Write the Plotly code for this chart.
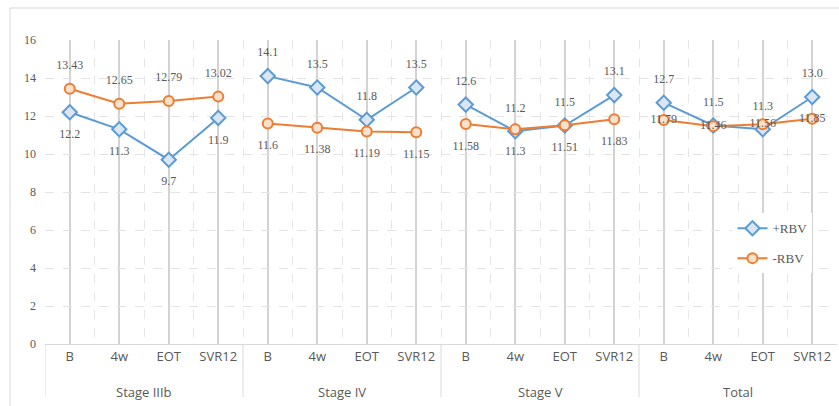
import plotly.graph_objects as go

categories = ["B", "4w", "EOT", "SVR12"] * 4
groups = ["Stage IIIb", "Stage IV", "Stage V", "Total"]
plus_rbv = [12.2, 11.3, 9.7, 11.9, 14.1, 13.5, 11.8, 13.5, 12.6, 11.2, 11.5, 13.1, 12.7, 11.5, 11.3, 13.0]
plus_labels = ["12.2", "11.3", "9.7", "11.9", "14.1", "13.5", "11.8", "13.5",
               "12.6", "11.2", "11.5", "13.1", "12.7", "11.5", "11.3", "13.0"]
minus_rbv = [13.43, 12.65, 12.79, 13.02, 11.6, 11.38, 11.19, 11.15, 11.58, 11.3, 11.51, 11.83, 11.79, 11.46, 11.56, 11.85]
minus_labels = ["13.43", "12.65", "12.79", "13.02", "11.6", "11.38", "11.19", "11.15",
                "11.58", "11.3", "11.51", "11.83", "11.79", "11.46", "11.56", "11.85"]
y_ticks = [0, 2, 4, 6, 8, 10, 12, 14, 16]

xs = list(range(len(categories)))
plus_pos = ["bottom center"] * 4 + ["top center"] * 12
minus_pos = ["top center"] * 4 + ["bottom center"] * 8 + ["middle center"] * 4


def with_gaps(vals):
    out = []
    for g in range(len(groups)):
        out.extend(vals[g * 4:(g + 1) * 4])
        out.append(None)
    return out


SERIF = "Liberation Serif"
SANS = "Open Sans"
TXT = "#595959"

fig = go.Figure()
series = [
    ("+RBV", plus_rbv, plus_labels, plus_pos, "#5B9BD5", "#DAE6F4", "diamond", 11, "a"),
    ("-RBV", minus_rbv, minus_labels, minus_pos, "#ED7D31", "#FBE0CE", "circle", 10, "b"),
]
for name, vals, labels, pos, col, fill, sym, size, grp in series:
    fig.add_trace(go.Scatter(
        x=with_gaps(xs), y=with_gaps(vals), name=name, mode="lines+markers",
        connectgaps=False,
        line=dict(color=col, width=2),
        marker=dict(symbol=sym, size=size, color=fill, line=dict(color=col, width=2)),
        legendgroup=grp, cliponaxis=False,
    ))
for name, vals, labels, pos, col, fill, sym, size, grp in series:
    fig.add_trace(go.Scatter(
        x=xs, y=vals, mode="markers+text", text=labels, textposition=pos,
        textfont=dict(family=SERIF, size=12, color=TXT),
        marker=dict(size=25, color="rgba(0,0,0,0)", line=dict(width=0)),
        showlegend=False, hoverinfo="skip", cliponaxis=False,
    ))

shapes = []
shapes.append(dict(type="rect", xref="paper", yref="paper",
                   x0=(10 - 45) / 792, x1=1.2, y0=-0.4, y1=(344 - 8) / 304,
                   line=dict(color="#D9D9D9", width=1), layer="below"))
for xv in [-0.5, 3.5, 7.5, 11.5]:
    shapes.append(dict(type="line", xref="x", yref="paper",
                       x0=xv, x1=xv, y0=0, y1=-53 / 304,
                       line=dict(color="#D9D9D9", width=1)))

annotations = []
for i, g in enumerate(groups):
    annotations.append(dict(x=i * 4 + 1.5, y=(344 - 392) / 304, xref="x", yref="paper",
                            text=g, showarrow=False, yanchor="middle",
                            font=dict(family=SANS, size=13, color=TXT)))

fig.update_layout(
    width=839, height=406,
    margin=dict(l=45, r=2, t=40, b=62),
    paper_bgcolor="white", plot_bgcolor="white",
    shapes=shapes, annotations=annotations,
    legend=dict(x=0.868, y=0.43, xanchor="left", yanchor="top",
                bgcolor="white", font=dict(family=SERIF, size=13, color=TXT),
                tracegroupgap=10, traceorder="grouped", itemwidth=30),
    showlegend=True,
)
fig.update_xaxes(
    range=[-0.5, 15.5], tickvals=xs, ticktext=categories,
    tickfont=dict(family=SANS, size=13, color=TXT),
    showgrid=True, gridcolor="#D3D3D3", gridwidth=1.5,
    minor=dict(tickvals=[x + 0.5 for x in range(-1, 16)], showgrid=True,
               griddash="dash", gridcolor="#E6E6E6", gridwidth=1),
    showline=True, linecolor="#D9D9D9", linewidth=1,
    ticks="", zeroline=False, fixedrange=True, ticklabelstandoff=0,
)
fig.update_yaxes(
    range=[0, 16], tickvals=y_ticks,
    tickfont=dict(family=SERIF, size=12, color=TXT),
    showgrid=True, gridcolor="#E3E3E3", griddash="dash", gridwidth=1,
    zeroline=False, ticks="", showline=False, ticklabelstandoff=8,
)

fig.write_html("out.html", config={"displayModeBar": False},
               post_script="document.body.style.margin='0';")
